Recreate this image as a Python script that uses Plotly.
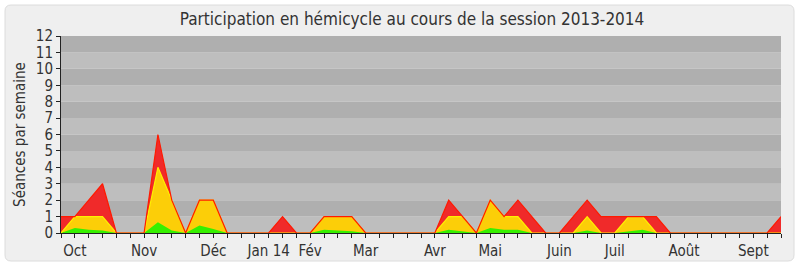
import plotly.graph_objects as go

weeks = list(range(53))
month_weeks = [1, 6, 11, 15, 18, 22, 27, 31, 36, 40, 45, 50]
month_labels = ["Oct", "Nov", "Déc", "Jan 14", "Fév", "Mar", "Avr", "Mai", "Juin", "Juil", "Août", "Sept"]

# séances totales (rouge)
total = [1, 1, 2, 3, 0, 0, 0, 6, 2, 0,
         2, 2, 0, 0, 0, 0, 1, 0, 0, 1,
         1, 1, 0, 0, 0, 0, 0, 0, 2, 1,
         0, 2, 1, 2, 1, 0, 0, 1, 2, 1,
         1, 1, 1, 1, 0, 0, 0, 0, 0, 0,
         0, 0, 1]
# présences (jaune)
presence = [0, 1, 1, 1, 0, 0, 0, 4, 2, 0,
            2, 2, 0, 0, 0, 0, 0, 0, 0, 1,
            1, 1, 0, 0, 0, 0, 0, 0, 1, 1,
            0, 2, 1, 1, 0, 0, 0, 0, 1, 0,
            0, 1, 1, 0, 0, 0, 0, 0, 0, 0,
            0, 0, 0]
# interventions (vert)
interventions = [0, 0.3, 0.2, 0.15, 0, 0, 0, 0.65, 0.15, 0,
                 0.45, 0.25, 0, 0, 0, 0, 0, 0, 0, 0.2,
                 0.15, 0.1, 0, 0, 0, 0, 0, 0, 0.2, 0.1,
                 0, 0.3, 0.2, 0.2, 0, 0, 0, 0, 0.15, 0,
                 0, 0.1, 0.2, 0, 0, 0, 0, 0, 0, 0,
                 0, 0, 0]

y_ticks = list(range(13))

FONT = "DejaVu Sans Condensed, DejaVu Sans, sans-serif"

fig = go.Figure()
# fills
fig.add_trace(go.Scatter(x=weeks, y=total, mode="lines", fill="tozeroy",
                         line=dict(color="#F02A2A", width=0),
                         fillcolor="#F02A2A", hoverinfo="skip"))
fig.add_trace(go.Scatter(x=weeks, y=presence, mode="lines", fill="tozeroy",
                         line=dict(color="#FCCE08", width=0),
                         fillcolor="#FCCE08", hoverinfo="skip"))
fig.add_trace(go.Scatter(x=weeks, y=interventions, mode="lines", fill="tozeroy",
                         line=dict(color="#36F000", width=0),
                         fillcolor="#36F000", hoverinfo="skip"))
# edge lines (yellow then red on top)
fig.add_trace(go.Scatter(x=weeks, y=presence, mode="lines",
                         line=dict(color="#FFF000", width=1.2), hoverinfo="skip"))
fig.add_trace(go.Scatter(x=weeks, y=total, mode="lines",
                         line=dict(color="#FF1A00", width=1.2), hoverinfo="skip"))

W, H = 800, 267
L, R, T, B = 61, 19, 36, 34
pw, ph = W - L - R, H - T - B
def px(x):
    return (x - L) / pw
def py(y):
    return (H - B - y) / ph

shapes = []
# rounded outer panel (paper coords) - first so it sits beneath the bands
x0, x1, y0, y1, r = 5, 794, 5, 261, 6
path = (f"M {px(x0 + r)},{py(y0)} L {px(x1 - r)},{py(y0)} "
        f"Q {px(x1)},{py(y0)} {px(x1)},{py(y0 + r)} "
        f"L {px(x1)},{py(y1 - r)} Q {px(x1)},{py(y1)} {px(x1 - r)},{py(y1)} "
        f"L {px(x0 + r)},{py(y1)} Q {px(x0)},{py(y1)} {px(x0)},{py(y1 - r)} "
        f"L {px(x0)},{py(y0 + r)} Q {px(x0)},{py(y0)} {px(x0 + r)},{py(y0)} Z")
shapes.append(dict(type="path", xref="paper", yref="paper", path=path,
                   layer="below", fillcolor="#EFEFEF",
                   line=dict(color="#DCDCDC", width=1)))
# alternating horizontal bands
for k in range(12):
    shapes.append(dict(type="rect", xref="x domain", yref="y", x0=0, x1=1,
                       y0=k, y1=k + 1, layer="below", line=dict(width=0),
                       fillcolor="#AFAFAF" if k % 2 == 1 else "#BEBEBE"))

ticktext = []
for w in weeks:
    ticktext.append(month_labels[month_weeks.index(w)] if w in month_weeks else "")

fig.update_layout(
    width=W, height=H,
    margin=dict(l=L, r=R, t=T, b=B),
    paper_bgcolor="#FFFFFF",
    plot_bgcolor="#BEBEBE",
    showlegend=False,
    shapes=shapes,
    title=dict(text="Participation en hémicycle au cours de la session 2013-2014",
               x=0.515, xanchor="center", y=0.93, yanchor="middle",
               font=dict(family=FONT, size=17, color="#333333")),
    xaxis=dict(range=[0, 52], tickmode="array", tickvals=weeks, ticktext=ticktext,
               automargin=False,
               ticks="outside", ticklen=4, tickcolor="#222222", tickwidth=1,
               showgrid=False, zeroline=False, showline=True, linecolor="#222222",
               linewidth=1, tickfont=dict(family=FONT, size=15, color="#333333")),
    yaxis=dict(range=[0, 12], tickmode="array", tickvals=y_ticks,
               automargin=False,
               ticks="outside", ticklen=4, tickcolor="#222222", tickwidth=1,
               showgrid=False, zeroline=False, showline=True, linecolor="#222222",
               linewidth=1, tickfont=dict(family=FONT, size=15, color="#333333"),
               title=dict(text="Séances par semaine", standoff=6,
                          font=dict(family=FONT, size=15, color="#333333"))),
)

fig.write_html("out.html")
